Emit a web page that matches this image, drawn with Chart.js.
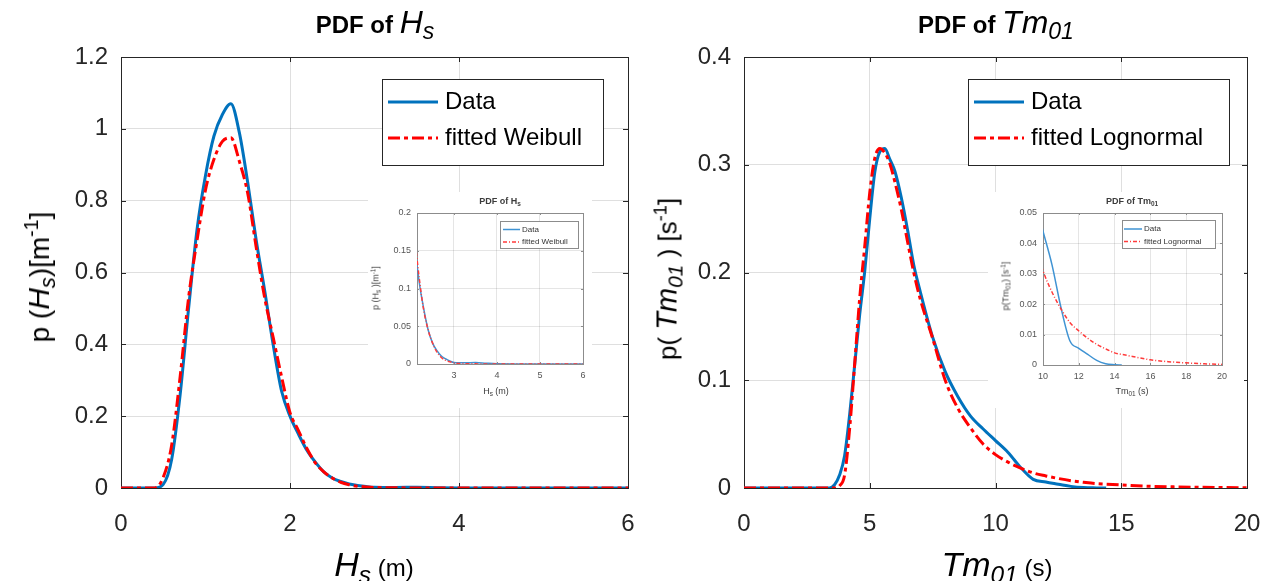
<!DOCTYPE html>
<html>
<head>
<meta charset="utf-8">
<script src="https://cdn.jsdelivr.net/npm/chart.js@4.4.0/dist/chart.umd.min.js"></script>
<style>
  html, body { margin: 0; padding: 0; background: #fff; }
  body { width: 1276px; height: 581px; position: relative; overflow: hidden;
         font-family: "Liberation Sans", Arial, sans-serif; color: #000; }
  canvas { position: absolute; }
  .inset { background: #fff; }
  .lbl { position: absolute; white-space: nowrap; line-height: 1; transform: translate(-50%, -50%); }
  .rot { transform: translate(-50%, -50%) rotate(-90deg); }
  .sb { font-size: 0.72em; position: relative; top: 0.28em; }
  .sp { font-size: 0.7em; position: relative; top: -0.55em; }
  .small { color: #3c3c3c; font-size: 9px; }
</style>
</head>
<body>
<canvas id="hsChart" width="640" height="581" style="left:0;top:0"></canvas>
<canvas id="tmChart" width="636" height="581" style="left:640px;top:0"></canvas>
<canvas id="hsInset" class="inset" width="224" height="216" style="left:368px;top:192px"></canvas>
<canvas id="tmInset" class="inset" width="256" height="216" style="left:988px;top:192px"></canvas>

<!-- main titles and axis labels -->
<div class="lbl" style="left:375px;top:22px;font-size:24px"><b>PDF of </b><i style="font-size:32px">H<span class="sb">s</span></i></div>
<div class="lbl" style="left:996px;top:22px;font-size:24px"><b>PDF of </b><i style="font-size:32px">Tm<span class="sb">01</span></i></div>
<div class="lbl" style="left:374px;top:564px;font-size:24px"><i style="font-size:34px">H<span class="sb">s</span></i> (m)</div>
<div class="lbl" style="left:997px;top:564px;font-size:24px"><i style="font-size:34px">Tm<span class="sb">01</span></i> (s)</div>
<div class="lbl rot" style="left:39px;top:277px;font-size:28px">p (<i style="font-size:30px">H<span class="sb">s</span></i>)[m<span class="sp">-1</span>]</div>
<div class="lbl rot" style="left:667px;top:279px;font-size:26px">p( <i style="font-size:29px">Tm<span class="sb">01</span></i> ) [s<span class="sp">-1</span>]</div>

<!-- inset titles and axis labels -->
<div class="lbl small" style="left:500px;top:201px"><b>PDF of H<span class="sb">s</span></b></div>
<div class="lbl small" style="left:496px;top:391px">H<span class="sb">s</span> (m)</div>
<div class="lbl small rot" style="left:376px;top:288px">p (H<span class="sb">s</span> )[m<span class="sp">-1</span>]</div>
<div class="lbl small" style="left:1132px;top:201px"><b>PDF of Tm<span class="sb">01</span></b></div>
<div class="lbl small" style="left:1132px;top:391px">Tm<span class="sb">01</span> (s)</div>
<div class="lbl small rot" style="left:1006px;top:286px">p(Tm<span class="sb">01</span>) [s<span class="sp">-1</span>]</div>

<script>
// significant wave height H_s (m)
const hsGrid = [0, 0.4, 0.5, 0.6, 0.7, 0.8, 0.9, 1.0, 1.1, 1.2, 1.3, 1.4, 1.5, 1.6, 1.7, 1.8, 1.9, 2.0,
                2.1, 2.2, 2.3, 2.4, 2.5, 2.6, 2.7, 2.8, 2.9, 3.0, 3.25, 3.5, 3.75, 4.0, 5.0, 6.0];
const hsData = [0, 0, 0.01, 0.08, 0.26, 0.5, 0.72, 0.87, 0.98, 1.04, 1.07, 0.99, 0.85, 0.69, 0.55, 0.40, 0.27, 0.20,
                0.15, 0.105, 0.072, 0.045, 0.028, 0.018, 0.011, 0.007, 0.004, 0.002, 0.0015, 0.002, 0.001, 0.0003, 0, 0];
const hsWeibull = [0, 0, 0.03, 0.12, 0.31, 0.53, 0.69, 0.83, 0.915, 0.965, 0.975, 0.91, 0.82, 0.67, 0.53, 0.42, 0.31, 0.21,
                   0.16, 0.11, 0.07, 0.045, 0.028, 0.016, 0.009, 0.005, 0.003, 0.0015, 0.0005, 0.0002, 0, 0, 0, 0];

// mean wave period Tm01 (s)
const tmGrid = [0, 3, 3.4, 3.6, 3.8, 4.0, 4.2, 4.4, 4.6, 4.8, 5.0, 5.2, 5.4, 5.6, 5.8, 6.0, 6.25, 6.5, 6.75, 7.0,
                7.5, 8.0, 8.5, 9.0, 9.5, 10, 10.5, 11, 11.5, 12, 12.5, 13, 13.5, 14, 14.4, 15, 16, 17, 18, 19, 20];
const tmData = [0, 0, 0, 0.003, 0.012, 0.03, 0.068, 0.114, 0.161, 0.201, 0.25, 0.293, 0.312, 0.315, 0.305, 0.294,
                0.27, 0.24, 0.207, 0.183, 0.14, 0.108, 0.085, 0.067, 0.055, 0.044, 0.033, 0.019, 0.008, 0.0055,
                0.0035, 0.0015, 0.0004, 0.0001, 0, null, null, null, null, null, null];
const tmLognormal = [0, 0, 0, 0, 0.002, 0.012, 0.055, 0.115, 0.176, 0.224, 0.274, 0.306, 0.315, 0.311, 0.301, 0.284,
                     0.259, 0.229, 0.2, 0.176, 0.139, 0.1, 0.074, 0.056, 0.041, 0.031, 0.024, 0.0185, 0.014, 0.0112,
                     0.0088, 0.0068, 0.0053, 0.004, 0.0035, 0.0028, 0.0017, 0.0011, 0.0007, 0.0004, 0.0002];

// tick values
const hsTicks = [0, 2, 4, 6];
const hsYTicks = [0, 0.2, 0.4, 0.6, 0.8, 1.0, 1.2];
const tmTicks = [0, 5, 10, 15, 20];
const tmYTicks = [0, 0.1, 0.2, 0.3, 0.4];
const hsInsetTicks = [3, 4, 5, 6];
const hsInsetYTicks = [0, 0.05, 0.1, 0.15, 0.2];
const tmInsetTicks = [10, 12, 14, 16, 18, 20];
const tmInsetYTicks = [0, 0.01, 0.02, 0.03, 0.04, 0.05];

const FONT = '"Liberation Sans", Arial, sans-serif';
const BLUE = '#0072BD';
const RED = '#FF0000';

function pts(xs, ys) {
    return xs.map((x, i) => ({ x: x, y: ys[i] }));
}

function fmt(v) {
    return String(Math.round(v * 1000) / 1000);
}

// MATLAB style box with inward ticks, drawn under the curves
const framePlugin = {
    id: 'frame',
    beforeDatasetsDraw(chart, args, o) {
        const { ctx, chartArea: a, scales } = chart;
        ctx.save();
        ctx.strokeStyle = o.color;
        ctx.lineWidth = 1;
        ctx.beginPath();
        scales.x.ticks.forEach(t => {
            const px = Math.round(scales.x.getPixelForValue(t.value)) + 0.5;
            ctx.moveTo(px, a.bottom); ctx.lineTo(px, a.bottom - o.tick);
            ctx.moveTo(px, a.top); ctx.lineTo(px, a.top + o.tick);
        });
        scales.y.ticks.forEach(t => {
            const py = Math.round(scales.y.getPixelForValue(t.value)) + 0.5;
            ctx.moveTo(a.left, py); ctx.lineTo(a.left + o.tick, py);
            ctx.moveTo(a.right, py); ctx.lineTo(a.right - o.tick, py);
        });
        ctx.stroke();
        ctx.strokeRect(Math.round(a.left) + 0.5, Math.round(a.top) + 0.5,
                       Math.round(a.right - a.left), Math.round(a.bottom - a.top));
        ctx.restore();
    }
};

// legend box placed inside the axes
const boxLegend = {
    id: 'boxLegend',
    afterDraw(chart, args, o) {
        const { ctx, chartArea: a } = chart;
        const x = Math.round(a.left + o.x), y = Math.round(a.top + o.y);
        ctx.save();
        ctx.fillStyle = '#fff';
        ctx.fillRect(x, y, o.w, o.h);
        ctx.strokeStyle = o.edge;
        ctx.lineWidth = 1;
        ctx.strokeRect(x + 0.5, y + 0.5, o.w, o.h);
        ctx.font = o.font;
        ctx.textBaseline = 'middle';
        chart.data.datasets.forEach((ds, i) => {
            const cy = y + o.rows[i];
            ctx.strokeStyle = ds.borderColor;
            ctx.lineWidth = ds.borderWidth;
            ctx.setLineDash(ds.borderDash || []);
            ctx.beginPath();
            ctx.moveTo(x + o.line[0], cy);
            ctx.lineTo(x + o.line[1], cy);
            ctx.stroke();
            ctx.setLineDash([]);
            ctx.fillStyle = o.textColor;
            ctx.fillText(ds.label, x + o.textX, cy);
        });
        ctx.restore();
    }
};

function makeChart(id, cfg) {
    const s = cfg.style;
    return new Chart(document.getElementById(id), {
        type: 'line',
        data: {
            datasets: [{
                label: 'Data',
                data: pts(cfg.grid, cfg.data),
                borderColor: s.blue,
                borderWidth: s.lw,
                order: 2
            }, {
                label: cfg.fitLabel,
                data: pts(cfg.grid, cfg.fit),
                borderColor: s.red,
                borderWidth: s.lw,
                borderDash: s.dash,
                order: 1
            }]
        },
        options: {
            responsive: false,
            animation: false,
            events: [],
            layout: { padding: { left: 0, right: cfg.padRight, top: cfg.padTop, bottom: 0 } },
            elements: {
                point: { radius: 0 },
                line: { cubicInterpolationMode: 'monotone', spanGaps: false, fill: false }
            },
            plugins: {
                legend: { display: false },
                tooltip: { enabled: false },
                frame: { color: s.frame, tick: s.tick },
                boxLegend: cfg.legend
            },
            scales: {
                x: {
                    type: 'linear',
                    min: cfg.xMin, max: cfg.xMax,
                    afterBuildTicks: sc => { sc.ticks = cfg.xTicks.map(v => ({ value: v })); },
                    afterFit: sc => { sc.height = cfg.xHeight; sc.paddingLeft = 0; sc.paddingRight = 0; },
                    border: { display: false },
                    grid: { color: s.grid, drawTicks: false },
                    ticks: { font: { family: FONT, size: s.font }, color: s.tickColor,
                             padding: s.xPad, maxRotation: 0, callback: fmt }
                },
                y: {
                    type: 'linear',
                    min: 0, max: cfg.yMax,
                    afterBuildTicks: sc => { sc.ticks = cfg.yTicks.map(v => ({ value: v })); },
                    afterFit: sc => { sc.width = cfg.yWidth; sc.paddingTop = 0; sc.paddingBottom = 0; },
                    border: { display: false },
                    grid: { color: s.grid, drawTicks: false },
                    ticks: { font: { family: FONT, size: s.font }, color: s.tickColor,
                             padding: s.yPad, callback: fmt }
                }
            }
        },
        plugins: [framePlugin, boxLegend]
    });
}

const mainStyle = {
    blue: BLUE, red: RED, lw: 3, dash: [12, 4, 4, 4],
    frame: '#262626', tick: 5, grid: 'rgba(38,38,38,0.15)',
    font: 24, tickColor: '#262626', xPad: 22, yPad: 13
};
const insetStyle = {
    blue: '#3f93d3', red: '#ff3b3b', lw: 1.5, dash: [4, 2, 1, 2],
    frame: '#8c8c8c', tick: 2, grid: 'rgba(38,38,38,0.12)',
    font: 9, tickColor: '#555', xPad: 6, yPad: 6
};

makeChart('hsChart', {
    style: mainStyle, grid: hsGrid, data: hsData, fit: hsWeibull, fitLabel: 'fitted Weibull',
    xMin: 0, xMax: 6, yMax: 1.2, xTicks: hsTicks, yTicks: hsYTicks,
    padRight: 12, padTop: 57, yWidth: 121, xHeight: 93,
    legend: { x: 261, y: 22, w: 221, h: 86, rows: [23, 59], line: [6, 56], textX: 63,
              font: '24px ' + FONT, edge: '#262626', textColor: '#000' }
});

makeChart('tmChart', {
    style: mainStyle, grid: tmGrid, data: tmData, fit: tmLognormal, fitLabel: 'fitted Lognormal',
    xMin: 0, xMax: 20, yMax: 0.4, xTicks: tmTicks, yTicks: tmYTicks,
    padRight: 29, padTop: 57, yWidth: 104, xHeight: 93,
    legend: { x: 224, y: 22, w: 261, h: 86, rows: [23, 59], line: [6, 56], textX: 63,
              font: '24px ' + FONT, edge: '#262626', textColor: '#000' }
});

makeChart('hsInset', {
    style: insetStyle, grid: hsGrid, data: hsData, fit: hsWeibull, fitLabel: 'fitted Weibull',
    xMin: 2.14, xMax: 6, yMax: 0.2, xTicks: hsInsetTicks, yTicks: hsInsetYTicks,
    padRight: 9, padTop: 21, yWidth: 49, xHeight: 44,
    legend: { x: 83, y: 8, w: 78, h: 27, rows: [8.5, 21], line: [3, 20], textX: 22,
              font: '8px ' + FONT, edge: '#8c8c8c', textColor: '#333' }
});

makeChart('tmInset', {
    style: insetStyle, grid: tmGrid, data: tmData, fit: tmLognormal, fitLabel: 'fitted Lognormal',
    xMin: 10, xMax: 20, yMax: 0.05, xTicks: tmInsetTicks, yTicks: tmInsetYTicks,
    padRight: 22, padTop: 21, yWidth: 55, xHeight: 43,
    legend: { x: 79, y: 7, w: 93, h: 28, rows: [9, 21.5], line: [2, 20], textX: 22,
              font: '8px ' + FONT, edge: '#8c8c8c', textColor: '#333' }
});
</script>
</body>
</html>
